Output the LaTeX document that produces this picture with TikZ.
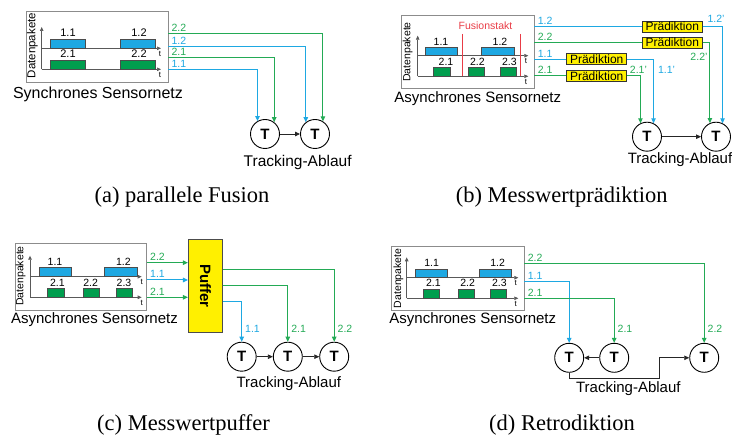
\documentclass[tikz,border=0pt]{standalone}
\usepackage{fontspec}
\setsansfont{Liberation Sans}
\newfontfamily\capfont{Liberation Serif}
\usepackage{graphicx}
\usetikzlibrary{arrows.meta}

\definecolor{dblue}{RGB}{30,168,226}
\definecolor{dgreen}{RGB}{0,158,78}
\definecolor{wgreen}{RGB}{35,170,85}
\definecolor{fyellow}{RGB}{255,240,0}
\definecolor{fred}{RGB}{232,60,70}

\tikzset{
  netframe/.style={draw=black!45, line width=0.9pt},
  taxis/.style={draw=black!65, line width=0.7pt, -{Triangle[length=4pt,width=3.5pt]}},
  bluebar/.style={draw=black!70, line width=0.5pt, fill=dblue},
  greenbar/.style={draw=black!70, line width=0.5pt, fill=dgreen},
  bwire/.style={color=dblue, line width=1pt, -{Triangle[length=5pt,width=4.5pt]}},
  gwire/.style={color=wgreen, line width=1pt, -{Triangle[length=5pt,width=4.5pt]}},
  tarrow/.style={draw=black!85, line width=0.8pt, -{Triangle[length=5pt,width=4.5pt]}},
}

\begin{document}
\begin{tikzpicture}[x=1pt,y=-1pt,
    small/.style={font=\sffamily\fontsize{10.5}{12}\selectfont, inner sep=0pt},
    tlab/.style={font=\sffamily\fontsize{8}{9}\selectfont, inner sep=0pt},
    netlabel/.style={font=\sffamily\fontsize{15}{17}\selectfont, inner sep=0pt},
    dpk/.style={font=\sffamily\fontsize{10.5}{12}\selectfont, inner sep=0pt, rotate=90},
    track/.style={circle, draw, line width=0.9pt, minimum size=29pt, inner sep=0pt,
      font=\sffamily\bfseries\fontsize{15}{15}\selectfont},
    pred/.style={draw=black!80, fill=fyellow, line width=0.6pt, minimum width=60pt,
      minimum height=11pt, inner sep=0pt, font=\sffamily\fontsize{12}{12}\selectfont},
    buffer/.style={draw=black!70, fill=fyellow, line width=0.7pt, minimum width=34.4pt,
      minimum height=93.7pt, inner sep=0pt, font=\sffamily\bfseries\fontsize{15}{15}\selectfont},
    subcap/.style={font=\capfont\fontsize{22.5}{26}\selectfont, inner sep=0pt}]

  \useasboundingbox (0,0) rectangle (732,438);

  % ---------- (a) synchronous network ----------
  \begin{scope}
    \draw[netframe] (26,11) rectangle (168,82);
    \node[dpk, font=\sffamily\fontsize{11.5}{12}\selectfont] (a-dp) at (32.5,45.5) {Datenpakete};
    \draw[taxis] (41.7,69.3) -- (41.7,27);
    \draw[taxis] (41.7,48.3) -- (161,48.3);
    \draw[taxis] (41.7,69.3) -- (161,69.3);
    \node[tlab] (a-t-up) at (160,53.5) {t};
    \node[tlab] (a-t-lo) at (160,75) {t};

    \draw[bluebar] (50.7,39) rectangle (85.7,48.3);
    \draw[bluebar] (120.7,39) rectangle (155,48.3);
    \draw[greenbar] (50.7,60) rectangle (85.7,69.3);
    \draw[greenbar] (120.7,60) rectangle (155,69.3);

    \begin{scope}[every node/.style={small, font=\sffamily\fontsize{11}{12}\selectfont}]
      \node (a-l11) at (68,33) {1.1};
      \node (a-l12) at (139,33) {1.2};
      \node (a-l21) at (68,54) {2.1};
      \node (a-l22) at (139,54) {2.2};
    \end{scope}
    \node[netlabel, font=\sffamily\fontsize{16}{18}\selectfont] (a-net) at (98,94) {Synchrones Sensornetz};

    \node[track] (a-t1) at (265,134) {T};
    \node[track] (a-t2) at (315,134) {T};
    \draw[tarrow] (a-t1) -- (a-t2);
    \node[netlabel, font=\sffamily\fontsize{15.5}{17}\selectfont] (a-flow) at (297.7,162) {Tracking-Ablauf};

    \coordinate (a-o22) at (168,33.3);
    \coordinate (a-o12) at (168,46.7);
    \coordinate (a-o21) at (168,58);
    \coordinate (a-o11) at (168,69.3);
    \draw[gwire] (a-o22) -| (a-t2.58)
      node[small, pos=0, anchor=south west, xshift=3pt, yshift=1.5pt] {2.2};
    \draw[bwire] (a-o12) -| (a-t2.128)
      node[small, pos=0, anchor=south west, xshift=3pt, yshift=1.5pt] {1.2};
    \draw[gwire] (a-o21) -| (a-t1.52)
      node[small, pos=0, anchor=south west, xshift=3pt, yshift=1.5pt] {2.1};
    \draw[bwire] (a-o11) -| (a-t1.120)
      node[small, pos=0, anchor=south west, xshift=3pt, yshift=1.5pt] {1.1};

    \node[subcap] (a-cap) at (182,197) {(a) parallele Fusion};
  \end{scope}

  % ---------- (b) measurement prediction ----------
  \begin{scope}
    \draw[netframe] (401.7,15.7) rectangle (534.3,88.3);
    \node[dpk] (b-dp) at (407.7,52) {Datenpakete};
    \draw[taxis] (417.7,76.3) -- (417.7,35.7);
    \draw[taxis] (417.7,55.7) -- (528.3,55.7);
    \draw[taxis] (417.7,76.3) -- (528.3,76.3);
    \node[tlab] (b-t-up) at (526,61) {t};
    \node[tlab] (b-t-lo) at (526,81.5) {t};

    \draw[bluebar] (425,47.7) rectangle (457.7,55.7);
    \draw[bluebar] (481.7,47.7) rectangle (514,55.7);
    \draw[greenbar] (433.3,67.7) rectangle (450,76.3);
    \draw[greenbar] (468.3,67.7) rectangle (484.3,76.3);
    \draw[greenbar] (500.7,67.7) rectangle (516.7,76.3);
    \draw[fred, line width=0.8pt] (462.3,34) -- (462.3,76.3);
    \draw[fred, line width=0.8pt] (520,34) -- (520,76.3);
    \node[small, text=fred] (b-fus) at (485.5,25.7) {Fusionstakt};

    \begin{scope}[every node/.style={small}]
      \node (b-l11) at (441,42.3) {1.1};
      \node (b-l12) at (500,42.3) {1.2};
      \node (b-l21) at (446,62) {2.1};
      \node (b-l22) at (477.3,62) {2.2};
      \node (b-l23) at (509.3,62) {2.3};
    \end{scope}
    \node[netlabel] (b-net) at (477.8,99) {Asynchrones Sensornetz};

    \node[pred] (b-p12) at (672.3,26.7) {Prädiktion};
    \node[pred] (b-p22) at (672.3,42.7) {Prädiktion};
    \node[pred] (b-p11) at (596.7,59.3) {Prädiktion};
    \node[pred] (b-p21) at (596.7,76) {Prädiktion};

    \node[track] (b-t1) at (647,136.7) {T};
    \node[track] (b-t2) at (716,136.7) {T};
    \draw[tarrow] (b-t1) -- (b-t2);
    \node[netlabel] (b-flow) at (680,159.3) {Tracking-Ablauf};

    \coordinate (b-o12) at (534.3,26.7);
    \coordinate (b-o22) at (534.3,42.7);
    \coordinate (b-o11) at (534.3,59.3);
    \coordinate (b-o21) at (534.3,76);
    \draw[bwire, -] (b-o12) -- (b-p12.west)
      node[small, pos=0, anchor=south west, xshift=3pt, yshift=1.5pt] {1.2};
    \draw[gwire, -] (b-o22) -- (b-p22.west)
      node[small, pos=0, anchor=south west, xshift=3pt, yshift=1.5pt] {2.2};
    \draw[bwire, -] (b-o11) -- (b-p11.west)
      node[small, pos=0, anchor=south west, xshift=3pt, yshift=1.5pt] {1.1};
    \draw[gwire, -] (b-o21) -- (b-p21.west)
      node[small, pos=0, anchor=south west, xshift=3pt, yshift=1.5pt] {2.1};

    \draw[bwire] (b-p12.east) -| (b-t2.64)
      node[small, pos=0, anchor=south west, xshift=4.5pt, yshift=3.5pt] {1.2'};
    \draw[gwire] (b-p22.east) -| (b-t2.114)
      node[small, pos=0.59, anchor=east, xshift=-2pt] {2.2'};
    \draw[bwire] (b-p11.east) -| (b-t1.64)
      node[small, pos=0.58, anchor=west, xshift=4pt] {1.1'};
    \draw[gwire] (b-p21.east) -| (b-t1.116)
      node[small, pos=0.5, anchor=south, xshift=-2pt, yshift=1.5pt] {2.1'};

    \node[subcap] (b-cap) at (561.7,196.7) {(b) Messwertprädiktion};
  \end{scope}

  % ---------- (c) measurement buffer ----------
  \begin{scope}
    \draw[netframe] (15.7,243.3) rectangle (146.7,310);
    \node[dpk] (c-dp) at (20.7,276) {Datenpakete};
    \draw[taxis] (30,297.3) -- (30,255.7);
    \draw[taxis] (30,276.7) -- (141.7,276.7);
    \draw[taxis] (30,297.3) -- (141.7,297.3);
    \node[tlab] (c-t-up) at (141.7,282.3) {t};
    \node[tlab] (c-t-lo) at (141.7,303.3) {t};

    \draw[bluebar] (39.3,267.7) rectangle (71.7,276.7);
    \draw[bluebar] (104.3,267.7) rectangle (137.3,276.7);
    \draw[greenbar] (47.7,288.3) rectangle (64.3,297.3);
    \draw[greenbar] (83.3,288.3) rectangle (99,297.3);
    \draw[greenbar] (116,288.3) rectangle (132.3,297.3);

    \begin{scope}[every node/.style={small}]
      \node (c-l11) at (55,262.3) {1.1};
      \node (c-l12) at (123.3,262.3) {1.2};
      \node (c-l21) at (57.3,282.7) {2.1};
      \node (c-l22) at (90.7,282.7) {2.2};
      \node (c-l23) at (124,282.7) {2.3};
    \end{scope}
    \node[netlabel] (c-net) at (94.5,320) {Asynchrones Sensornetz};

    \node[buffer] (c-buf) at (205.5,285.9) {\rotatebox{-90}{Puffer}};

    \coordinate (c-i22) at (146.7,262.7);
    \coordinate (c-i11) at (146.7,280);
    \coordinate (c-i21) at (146.7,297.3);
    \draw[gwire] (c-i22) -- (c-i22 -| c-buf.west)
      node[small, pos=0, anchor=south west, xshift=3pt, yshift=1.5pt] {2.2};
    \draw[bwire] (c-i11) -- (c-i11 -| c-buf.west)
      node[small, pos=0, anchor=south west, xshift=3pt, yshift=1.5pt] {1.1};
    \draw[gwire] (c-i21) -- (c-i21 -| c-buf.west)
      node[small, pos=0, anchor=south west, xshift=3pt, yshift=1.5pt] {2.1};

    \node[track] (c-t1) at (241.7,356.7) {T};
    \node[track] (c-t2) at (287.8,356.7) {T};
    \node[track] (c-t3) at (334.2,356.7) {T};
    \draw[tarrow] (c-t1) -- (c-t2);
    \draw[tarrow] (c-t2) -- (c-t3);
    \node[netlabel] (c-flow) at (288.8,383.3) {Tracking-Ablauf};

    \coordinate (c-o22) at (222.7,269.3);
    \coordinate (c-o21) at (222.7,285.7);
    \coordinate (c-o11) at (222.7,301.7);
    \draw[gwire] (c-o22) -| (c-t3.north)
      node[small, pos=1, anchor=west, xshift=3pt, yshift=13pt] {2.2};
    \draw[gwire] (c-o21) -| (c-t2.north)
      node[small, pos=1, anchor=west, xshift=3pt, yshift=13pt] {2.1};
    \draw[bwire] (c-o11) -| (c-t1.north)
      node[small, pos=1, anchor=west, xshift=3pt, yshift=13pt] {1.1};

    \node[subcap] (c-cap) at (183.5,425) {(c) Messwertpuffer};
  \end{scope}

  % ---------- (d) retrodiction ----------
  \begin{scope}
    \draw[netframe] (391.7,246) rectangle (524.3,310);
    \node[dpk] (d-dp) at (398.3,278.3) {Datenpakete};
    \draw[taxis] (406.7,298.3) -- (406.7,257.3);
    \draw[taxis] (406.7,277.7) -- (518.3,277.7);
    \draw[taxis] (406.7,298.3) -- (518.3,298.3);
    \node[tlab] (d-t-up) at (515.7,283.3) {t};
    \node[tlab] (d-t-lo) at (515.7,304) {t};

    \draw[bluebar] (415.7,269.3) rectangle (447.7,277.7);
    \draw[bluebar] (479.3,269.3) rectangle (511.7,277.7);
    \draw[greenbar] (423.3,289.3) rectangle (439.3,298.3);
    \draw[greenbar] (458.3,289.3) rectangle (474.3,298.3);
    \draw[greenbar] (490.7,289.3) rectangle (506.7,298.3);

    \begin{scope}[every node/.style={small}]
      \node (d-l11) at (431.7,263.3) {1.1};
      \node (d-l12) at (497.7,263.3) {1.2};
      \node (d-l21) at (433.3,283.3) {2.1};
      \node (d-l22) at (467.7,283.3) {2.2};
      \node (d-l23) at (499.3,283.3) {2.3};
    \end{scope}
    \node[netlabel] (d-net) at (472.8,320) {Asynchrones Sensornetz};

    \node[track] (d-t1) at (569.2,357.8) {T};
    \node[track] (d-t2) at (614.2,357.8) {T};
    \node[track] (d-t3) at (704.2,357.8) {T};
    \draw[tarrow] (d-t2) -- (d-t1);
    \coordinate (d-bend) at (659.3,378.3);
    \draw[tarrow] (d-t1.south) |- (d-bend) |- (d-t3.west);
    \node[netlabel] (d-flow) at (628.3,388.5) {Tracking-Ablauf};

    \coordinate (d-o22) at (524.3,263.3);
    \coordinate (d-o11) at (524.3,281.7);
    \coordinate (d-o21) at (524.3,298.3);
    \draw[gwire] (d-o22) -| (d-t3.north)
      node[small, pos=0, anchor=south west, xshift=3pt, yshift=1.5pt] {2.2}
      node[small, pos=1, anchor=west, xshift=3pt, yshift=14pt] {2.2};
    \draw[bwire] (d-o11) -| (d-t1.north)
      node[small, pos=0, anchor=south west, xshift=3pt, yshift=1.5pt] {1.1};
    \draw[gwire] (d-o21) -| (d-t2.north)
      node[small, pos=0, anchor=south west, xshift=3pt, yshift=1.5pt] {2.1}
      node[small, pos=1, anchor=west, xshift=3pt, yshift=14pt] {2.1};

    \node[subcap] (d-cap) at (562,425) {(d) Retrodiktion};
  \end{scope}

\end{tikzpicture}
\end{document}
